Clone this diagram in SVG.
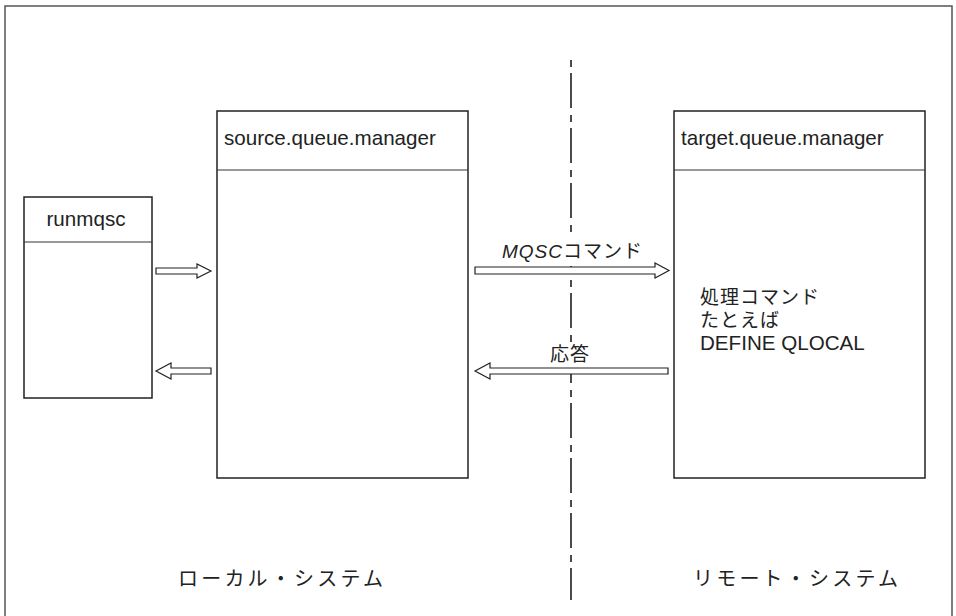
<svg xmlns="http://www.w3.org/2000/svg" width="956" height="616" viewBox="0 0 956 616">
<style>
.box{fill:#fff;stroke:#222;stroke-width:1.5}
.div{stroke:#333;stroke-width:1.2}
.arr{fill:#fff;stroke:#222;stroke-width:1.2;stroke-linejoin:miter}
.t{font-family:"Liberation Sans","Noto Sans CJK JP",sans-serif;font-size:20.6px;fill:#222}
.j{font-family:"Liberation Sans","Noto Sans CJK JP",sans-serif;font-size:19px;fill:#222;letter-spacing:1px}
.big{font-family:"Noto Sans CJK JP",sans-serif;font-size:20px;fill:#222;letter-spacing:3.2px}
</style>
<rect width="956" height="616" fill="#fff"/>
<rect x="5" y="6" width="947" height="620" fill="none" stroke="#555" stroke-width="1.5"/>
<g id="divider">
<line x1="571" y1="60" x2="571" y2="600" stroke="#111" stroke-width="1.5" stroke-dasharray="7 6 35 7"/>
<rect x="560" y="238" width="22" height="28" fill="#fff"/>
<rect x="560" y="342" width="22" height="26" fill="#fff"/>
</g>
<g id="runmqsc">
<rect class="box" x="24" y="197" width="128" height="201"/>
<line class="div" x1="24" y1="242" x2="152" y2="242"/>
<text class="t" x="86" y="226" text-anchor="middle">runmqsc</text>
</g>
<g id="source">
<rect class="box" x="217" y="111" width="251" height="367"/>
<line class="div" x1="217" y1="170" x2="468" y2="170"/>
<text class="t" x="224" y="145">source.queue.manager</text>
</g>
<g id="target">
<rect class="box" x="674" y="111" width="251" height="367"/>
<line class="div" x1="674" y1="170" x2="925" y2="170"/>
<text class="t" x="681" y="145">target.queue.manager</text>
<text class="j" x="700" y="304">処理コマンド</text>
<text class="j" x="700" y="327">たとえば</text>
<text class="t" x="700" y="350">DEFINE QLOCAL</text>
</g>
<g id="connectors">
<polygon class="arr" points="156,268 197,268 197,264 211,271 197,278 197,274 156,274"/>
<polygon class="arr" points="211,368 171,368 171,363 156,371 171,379 171,374 211,374"/>
<polygon class="arr" points="475,267 655,267 655,263 669,270.5 655,278 655,274 475,274"/>
<polygon class="arr" points="668,368 490,368 490,363 475,371 490,379 490,374 668,374"/>
<text class="j" x="502" y="258"><tspan font-style="italic">MQSC</tspan>コマンド</text>
<text class="j" x="550" y="361">応答</text>
</g>
<g id="labels">
<text class="big" x="178" y="586">ローカル・システム</text>
<text class="big" x="693" y="586">リモート・システム</text>
</g>
</svg>
